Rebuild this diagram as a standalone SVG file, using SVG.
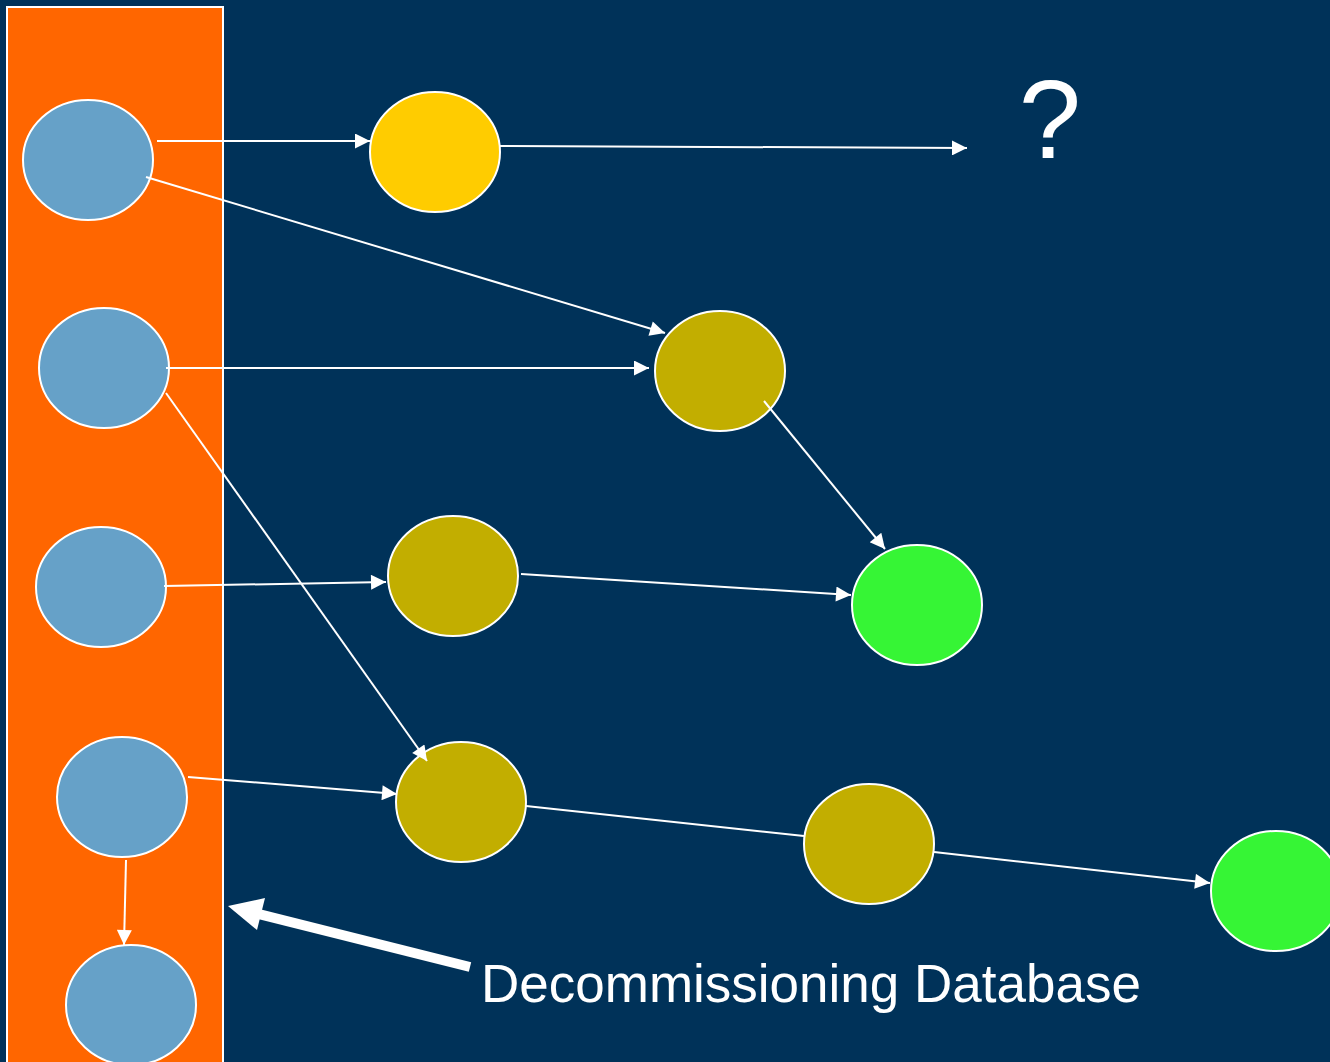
<svg xmlns="http://www.w3.org/2000/svg" width="1330" height="1062" viewBox="0 0 1330 1062">
<style>
.bg{fill:#003259}
.panel{fill:#ff6600;stroke:#ffffff;stroke-width:2}
.n{stroke:#ffffff;stroke-width:2}
.blue{fill:#66a1c8}
.yellow{fill:#ffcc00}
.olive{fill:#c2ae00}
.green{fill:#36f535}
.c{stroke:#ffffff;stroke-width:2;fill:none}
.t{fill:#ffffff;font-family:"Liberation Sans",Arial,sans-serif}
</style>
<defs>
<marker id="ah" viewBox="0 0 10 10" refX="10" refY="5" markerWidth="8.5" markerHeight="7.5" markerUnits="strokeWidth" orient="auto">
<path d="M0,0 L10,5 L0,10 z" fill="#ffffff"/>
</marker>
</defs>
<rect class="bg" x="0" y="0" width="1330" height="1062"/>
<rect class="panel" x="7" y="7" width="216" height="1070"/>
<g id="node-b1"><ellipse class="n blue" cx="88" cy="160" rx="65" ry="60"/></g>
<g id="node-b2"><ellipse class="n blue" cx="104" cy="368" rx="65" ry="60"/></g>
<g id="node-b3"><ellipse class="n blue" cx="101" cy="587" rx="65" ry="60"/></g>
<g id="node-b4"><ellipse class="n blue" cx="122" cy="797" rx="65" ry="60"/></g>
<g id="node-b5"><ellipse class="n blue" cx="131" cy="1005" rx="65" ry="60"/></g>
<g id="node-y1"><ellipse class="n yellow" cx="435" cy="152" rx="65" ry="60"/></g>
<g id="node-o1"><ellipse class="n olive" cx="720" cy="371" rx="65" ry="60"/></g>
<g id="node-o2"><ellipse class="n olive" cx="453" cy="576" rx="65" ry="60"/></g>
<g id="node-g1"><ellipse class="n green" cx="917" cy="605" rx="65" ry="60"/></g>
<g id="node-o3"><ellipse class="n olive" cx="461" cy="802" rx="65" ry="60"/></g>
<g id="node-o4"><ellipse class="n olive" cx="869" cy="844" rx="65" ry="60"/></g>
<g id="node-g2"><ellipse class="n green" cx="1276" cy="891" rx="65" ry="60"/></g>
<g id="connectors">
<line class="c" x1="157" y1="141" x2="370" y2="141" marker-end="url(#ah)"/>
<line class="c" x1="146" y1="177" x2="665" y2="333" marker-end="url(#ah)"/>
<line class="c" x1="500" y1="146" x2="967" y2="148" marker-end="url(#ah)"/>
<line class="c" x1="166" y1="368" x2="649" y2="368" marker-end="url(#ah)"/>
<line class="c" x1="166" y1="393" x2="427" y2="761" marker-end="url(#ah)"/>
<line class="c" x1="764" y1="401" x2="885" y2="549" marker-end="url(#ah)"/>
<line class="c" x1="164" y1="586" x2="386" y2="582" marker-end="url(#ah)"/>
<line class="c" x1="521" y1="574" x2="851" y2="595" marker-end="url(#ah)"/>
<line class="c" x1="188" y1="777" x2="397" y2="794" marker-end="url(#ah)"/>
<line class="c" x1="526" y1="806" x2="804" y2="836"/>
<line class="c" x1="934" y1="852" x2="1210" y2="883" marker-end="url(#ah)"/>
<line class="c" x1="126" y1="860" x2="124" y2="945" marker-end="url(#ah)"/>
</g>
<g id="label-q"><text class="t" x="1050" y="158" font-size="112" text-anchor="middle">?</text></g>
<g id="label-db">
<line x1="470" y1="967" x2="255" y2="913" stroke="#ffffff" stroke-width="10"/>
<path d="M228,906 L265,898 L257,930 z" fill="#ffffff"/>
<text class="t" x="481" y="1002" font-size="53">Decommissioning Database</text>
</g>
</svg>
